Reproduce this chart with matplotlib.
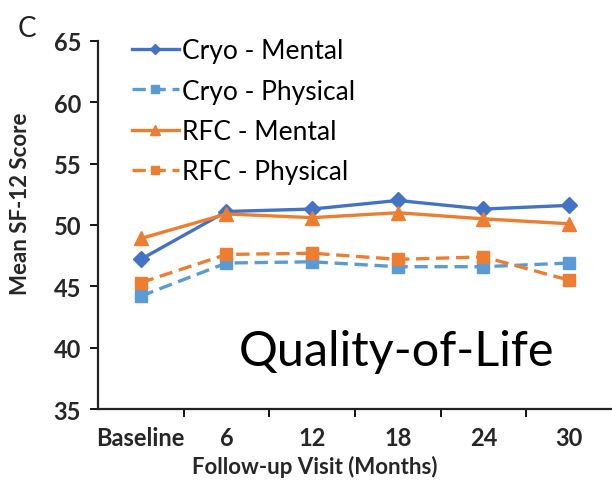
import matplotlib
matplotlib.use("Agg")
import matplotlib.pyplot as plt
import numpy as np

visits = ["Baseline", "6", "12", "18", "24", "30"]
cryo_mental = [47.2, 51.1, 51.3, 52.0, 51.3, 51.6]
cryo_physical = [44.2, 46.9, 47.0, 46.6, 46.6, 46.9]
rfc_mental = [48.9, 50.9, 50.6, 51.0, 50.5, 50.1]
rfc_physical = [45.3, 47.6, 47.7, 47.2, 47.4, 45.5]
y_ticks = [35, 40, 45, 50, 55, 60, 65]

plt.rcParams['font.family'] = ['Lato', 'DejaVu Sans']

fig = plt.figure(figsize=(6.12, 4.81), dpi=100)
ax = fig.add_axes([0.160, 0.1476, 0.840, 0.7651])

x = np.arange(len(visits))
blue = "#4472C4"
lblue = "#5B9BD5"
orange = "#ED7D31"
dash = (0, (4, 2))

ax.plot(x, cryo_mental, color=blue, lw=2.4, marker="D", ms=8, label="Cryo - Mental")
ax.plot(x, cryo_physical, color=lblue, lw=2.4, ls=dash, marker="s", ms=9,
        label="Cryo - Physical")
ax.plot(x, rfc_mental, color=orange, lw=2.4, marker="^", ms=10, label="RFC - Mental")
ax.plot(x, rfc_physical, color=orange, lw=2.4, ls=dash, marker="s", ms=9,
        label="RFC - Physical")

ax.set_xlim(-0.5, 5.5)
ax.set_ylim(35, 65)
ax.set_yticks(y_ticks)
ax.set_xticks(x)
ax.set_xticklabels(visits)
ax.set_xticks(np.arange(0.5, 5.0, 1.0), minor=True)
ax.tick_params(axis="x", which="major", length=0, pad=12)
ax.tick_params(axis="x", which="minor", length=6, width=1.3, direction="out")
ax.tick_params(axis="y", length=6, width=1.3, direction="out", pad=6)
for lab in ax.get_xticklabels() + ax.get_yticklabels():
    lab.set_fontsize(17)
    lab.set_fontweight("bold")
    lab.set_color("#262626")

for s in ["top", "right"]:
    ax.spines[s].set_visible(False)
for s in ["left", "bottom"]:
    ax.spines[s].set_linewidth(1.6)
    ax.spines[s].set_color("#222222")

ax.set_ylabel("Mean SF-12 Score", fontsize=16, fontweight="bold", color="#262626")
ax.yaxis.set_label_coords(-0.13, 0.56)
ax.set_xlabel("Follow-up Visit (Months)", fontsize=16, fontweight="bold", color="#262626")
ax.xaxis.set_label_coords(0.422, -0.125)

leg = ax.legend(loc="upper left", bbox_to_anchor=(0.035, 1.05), frameon=False,
                fontsize=19, handlelength=1.8, handletextpad=0.1, labelspacing=0.58,
                markerscale=0.7, borderaxespad=0.2)

ax.text(0.58, 0.158, "Quality-of-Life", transform=ax.transAxes, fontsize=35,
        ha="center", va="center", color="black")
fig.text(0.044, 0.94, "C", fontsize=20, ha="center", va="center", color="#222222")

fig.savefig("out.png", dpi=100)
